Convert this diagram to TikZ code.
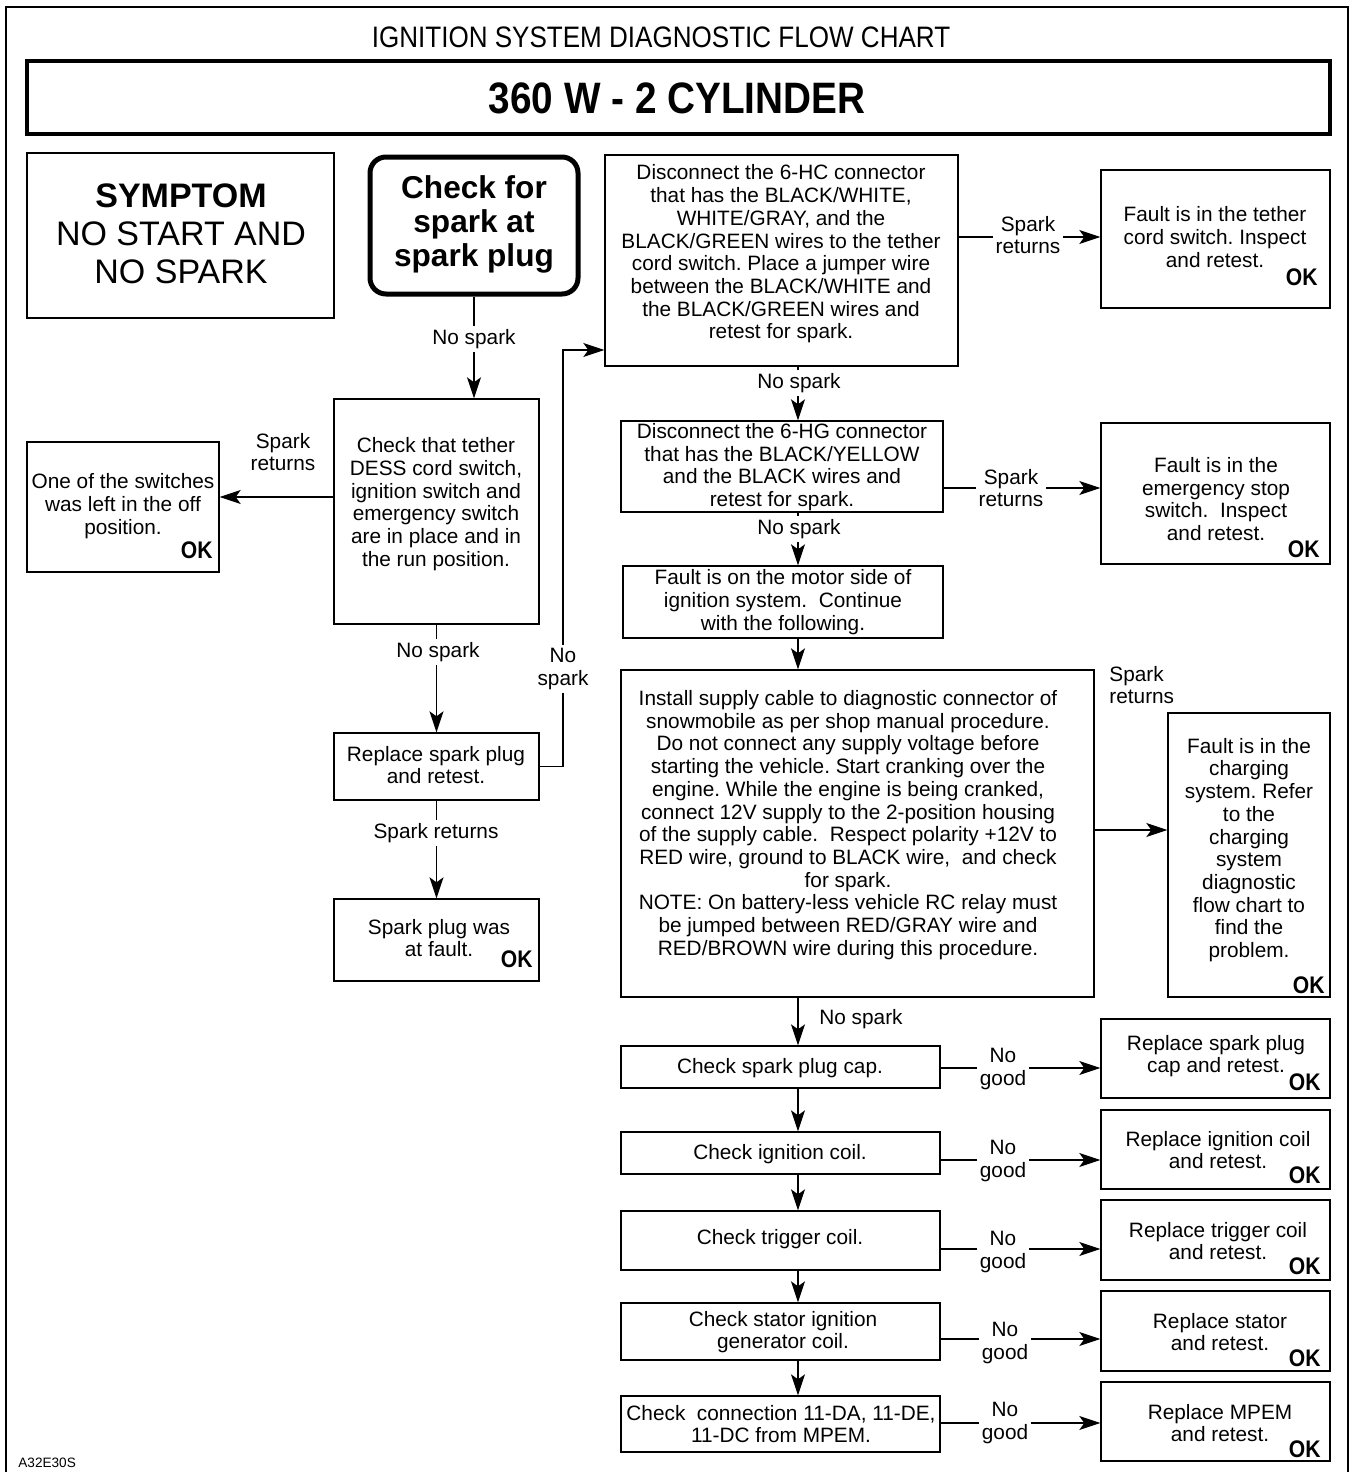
\documentclass[tikz,border=0pt]{standalone}
\usepackage{fontspec}
\setmainfont{Liberation Sans}
\newfontfamily\narrowfont[FakeStretch=0.88]{Liberation Sans}
\usetikzlibrary{arrows.meta,fit}
\frenchspacing
\newcommand\fcbody{\fontsize{10.4}{11.35}\selectfont}
\tikzset{
  box/.style={draw, line width=0.7pt, inner sep=0pt},
  txt/.style={font=\fcbody, align=center, inner sep=0pt},
  lbl/.style={font=\fcbody, align=center, fill=white, inner sep=1.5pt},
  plainlbl/.style={font=\fcbody, align=center, inner sep=0pt},
  okmark/.style={font=\narrowfont\bfseries\fontsize{12}{13}\selectfont, inner sep=0pt, anchor=base east},
  conn/.style={line width=0.7pt},
  arr/.style={conn, -{Stealth[length=10.5pt,width=7pt,inset=2.5pt]}},
}
\newcommand\fcbox[8]{%
  \node[box, fit={(#2,#3) (#4,#5)}] (#1) {};
  \node[txt] (#1-t) at (#6,#7) {#8};}
\begin{document}
\begin{tikzpicture}[x=0.5pt,y=-0.5pt]
\useasboundingbox (0,0) rectangle (1354,1472);
% frame and titles
\draw[line width=1.3pt] (6,1472) -- (6,7) -- (1348,7) -- (1348,1472);
\node[font=\narrowfont\fontsize{14.8}{16}\selectfont, inner sep=0pt] (heading) at (661,37) {IGNITION SYSTEM DIAGNOSTIC FLOW CHART};
\node[draw, line width=2pt, inner sep=0pt, fit={(27,61) (1330,134)}] (model) {};
\node[font=\narrowfont\bfseries\fontsize{22}{24}\selectfont, inner sep=0pt] (model-t) at (677,98) {360 W - 2 CYLINDER};
% symptom and start
\node[box, fit={(27,153) (334,318)}] (symptom) {};
\node[txt, font=\fontsize{17}{19}\selectfont] (symptom-t) at (181,234) {\textbf{SYMPTOM}\\NO START AND\\NO SPARK};
\node[draw, line width=2.5pt, rounded corners=8pt, inner sep=0pt, fit={(370,157) (578,294)}] (spark) {};
\node[txt, font=\bfseries\fontsize{15.8}{17}\selectfont] (spark-t) at (474,224) {Check for\\spark at\\spark plug};
% left column
\fcbox{tether}{334}{399}{539}{624}{436}{504}{Check that tether\\DESS cord switch,\\ignition switch and\\emergency switch\\are in place and in\\the run position.}
\fcbox{switches}{27}{442}{219}{572}{123}{506}{One of the switches\\was left in the off\\position.}
\node[okmark] (switches-ok) at (213,558) {OK};
\fcbox{replace}{334}{733}{539}{800}{436}{765}{Replace spark plug\\and retest.}
\fcbox{spfault}{334}{899}{539}{981}{439}{938}{Spark plug was\\at fault.}
\node[okmark] (spfault-ok) at (533,967) {OK};
% middle column
\fcbox{hc}{605}{155}{958}{366}{781}{254}{Disconnect the 6-HC connector\\that has the BLACK/WHITE,\\WHITE/GRAY, and the\\BLACK/GREEN wires to the tether\\cord switch. Place a jumper wire\\between the BLACK/WHITE and\\the BLACK/GREEN wires and\\retest for spark.}
\fcbox{hg}{621}{421}{943}{512}{782}{467}{Disconnect the 6-HG connector\\that has the BLACK/YELLOW\\and the BLACK wires and\\retest for spark.}
\fcbox{motor}{623}{566}{943}{638}{783}{602}{Fault is on the motor side of\\ignition system.~ Continue\\with the following.}
\fcbox{install}{621}{670}{1094}{997}{848}{825}{Install supply cable to diagnostic connector of\\snowmobile as per shop manual procedure.\\Do not connect any supply voltage before\\starting the vehicle. Start cranking over the\\engine. While the engine is being cranked,\\connect 12V supply to the 2-position housing\\of the supply cable.~ Respect polarity +12V to\\RED wire, ground to BLACK wire,~ and check\\for spark.\\NOTE: On battery-less vehicle RC relay must\\be jumped between RED/GRAY wire and\\RED/BROWN wire during this procedure.}
\fcbox{c1}{621}{1046}{940}{1088}{780}{1068}{Check spark plug cap.}
\fcbox{c2}{621}{1132}{940}{1174}{780}{1154}{Check ignition coil.}
\fcbox{c3}{621}{1211}{940}{1270}{780}{1239}{Check trigger coil.}
\fcbox{c4}{621}{1303}{940}{1360}{783}{1332}{Check stator ignition\\generator coil.}
\fcbox{c5}{621}{1396}{940}{1452}{781}{1424}{Check~ connection 11-DA, 11-DE,\\11-DC from MPEM.}
% right column
\fcbox{ft}{1101}{170}{1330}{308}{1215}{237}{Fault is in the tether\\cord switch. Inspect\\and retest.}
\node[okmark] (ft-ok) at (1318,285) {OK};
\fcbox{es}{1101}{423}{1330}{564}{1216}{499}{Fault is in the\\emergency stop\\switch.~ Inspect\\and retest.}
\node[okmark] (es-ok) at (1320,557) {OK};
\fcbox{charge}{1168}{713}{1330}{997}{1249}{850}{Fault is in the\\charging\\system. Refer\\to the\\charging\\system\\diagnostic\\flow chart to\\find the\\problem.}
\node[okmark] (charge-ok) at (1325,993) {OK};
\fcbox{r1}{1101}{1019}{1330}{1098}{1216}{1056}{Replace spark plug\\cap and retest.}
\node[okmark] (r1-ok) at (1321,1090) {OK};
\fcbox{r2}{1101}{1110}{1330}{1189}{1218}{1150}{Replace ignition coil\\and retest.}
\node[okmark] (r2-ok) at (1321,1183) {OK};
\fcbox{r3}{1101}{1200}{1330}{1280}{1218}{1241}{Replace trigger coil\\and retest.}
\node[okmark] (r3-ok) at (1321,1274) {OK};
\fcbox{r4}{1101}{1291}{1330}{1371}{1220}{1332}{Replace stator\\and retest.}
\node[okmark] (r4-ok) at (1321,1366) {OK};
\fcbox{r5}{1101}{1382}{1330}{1461}{1220}{1423}{Replace MPEM\\and retest.}
\node[okmark] (r5-ok) at (1321,1457) {OK};
% connectors
\coordinate (spine) at (798,0);
\coordinate (loop) at (563,350);
\draw[arr] (spark.south) -- (spark.south |- tether.north);
\draw[arr] (tether.west |- 0,497) -- (switches.east |- 0,497);
\draw[arr] (tether.south) -- (replace.north);
\draw[arr] (replace.east) -| (loop) -- (hc.west |- loop);
\draw[arr] (replace.south) -- (spfault.north);
\draw[arr] (hc.east |- 0,237) -- (ft.west |- 0,237);
\draw[arr] (hc.south -| spine) -- (hg.north -| spine);
\draw[arr] (hg.east |- 0,488) -- (es.west |- 0,488);
\draw[arr] (hg.south -| spine) -- (motor.north -| spine);
\draw[arr] (motor.south -| spine) -- (install.north -| spine);
\draw[arr] (install.east |- 0,830) -- (charge.west |- 0,830);
\draw[arr] (install.south -| spine) -- (c1.north -| spine);
\draw[arr] (c1.south -| spine) -- (c2.north -| spine);
\draw[arr] (c2.south -| spine) -- (c3.north -| spine);
\draw[arr] (c3.south -| spine) -- (c4.north -| spine);
\draw[arr] (c4.south -| spine) -- (c5.north -| spine);
\draw[arr] (c1.east |- 0,1068) -- (r1.west |- 0,1068);
\draw[arr] (c2.east |- 0,1160) -- (r2.west |- 0,1160);
\draw[arr] (c3.east |- 0,1249) -- (r3.west |- 0,1249);
\draw[arr] (c4.east |- 0,1339) -- (r4.west |- 0,1339);
\draw[arr] (c5.east |- 0,1423) -- (r5.west |- 0,1423);
% connector labels
\node[lbl] (l-spark) at (474,339) {No spark};
\node[plainlbl] (l-sw) at (283,452) {Spark\\returns};
\node[lbl] (l-teth) at (438,652) {No spark};
\node[lbl] (l-loop) at (563,669) {No\\spark};
\node[lbl] (l-rep) at (436,833) {Spark returns};
\node[lbl] (l-hc) at (1028,235) {Spark\\returns};
\node[lbl] (l-hcdown) at (799,383) {No spark};
\node[lbl] (l-hg) at (1011,488) {Spark\\returns};
\node[lbl] (l-hgdown) at (799,529) {No spark};
\node[plainlbl, anchor=west, align=left] (l-charge) at (1109,685) {Spark\\returns};
\node[plainlbl] (l-inst) at (861,1019) {No spark};
\node[lbl] (l-c1) at (1003,1069) {No\\good};
\node[lbl] (l-c2) at (1003,1161) {No\\good};
\node[lbl] (l-c3) at (1003,1252) {No\\good};
\node[lbl] (l-c4) at (1005,1343) {No\\good};
\node[lbl] (l-c5) at (1005,1423) {No\\good};
\node[font=\fontsize{6.8}{8}\selectfont, anchor=base west, inner sep=0pt] (code) at (18,1467) {A32E30S};
\end{tikzpicture}
\end{document}
